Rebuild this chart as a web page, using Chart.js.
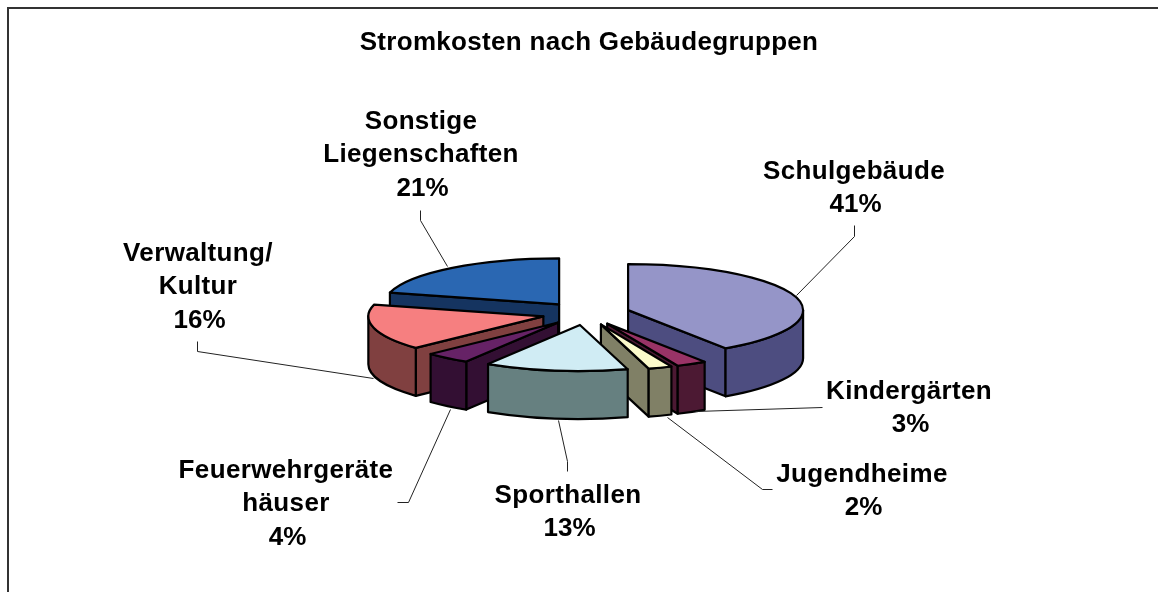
<!DOCTYPE html>
<html lang="de">
<head>
<meta charset="utf-8">
<title>Stromkosten nach Gebäudegruppen</title>
<script src="https://cdn.jsdelivr.net/npm/chart.js@4"></script>
<style>html,body{margin:0;padding:0;background:#fff}canvas{display:block}</style>
</head>
<body>
<canvas id="c" width="1158" height="592"></canvas>
<script>
// --- data ---
const chartTitle = 'Stromkosten nach Gebäudegruppen';
const categories = ['Schulgebäude', 'Kindergärten', 'Jugendheime', 'Sporthallen', 'Feuerwehrgeräte häuser', 'Verwaltung/ Kultur', 'Sonstige Liegenschaften'];
const labelLines = [['Schulgebäude'], ['Kindergärten'], ['Jugendheime'], ['Sporthallen'], ['Feuerwehrgeräte', 'häuser'], ['Verwaltung/', 'Kultur'], ['Sonstige', 'Liegenschaften']];
const shares = [40.6, 2.8, 2.2, 13.2, 4.2, 16.1, 20.9];
const percentLabels = ['41%', '3%', '2%', '13%', '4%', '16%', '21%'];
const topColors = ['#9595C8', '#993366', '#FCFBCB', '#D0ECF4', '#662266', '#F67F80', '#2A67B2'];
const sideColors = ['#4D4D80', '#4C1933', '#808066', '#668080', '#330F33', '#804040', '#153460'];

// --- presentation ---
const SQUASH = 46 / 175, DEPTH = 48, EXPLODE = 44;
const PAINT_ORDER = [6, 0, 5, 4, 1, 2, 3];
const FONT = 'bold 26px "Liberation Sans", Arial, sans-serif';
const LINE_H = 33.5, TITLE_SHIFT = 3;
const labelAnchors = [[854, 171.5], [909, 391.5], [862, 474.5], [568, 495.5], [286, 470.5], [198, 253.5], [421, 121.5]];
const leaders = [
  [[854,225],[854,236],[796,295]],
  [[822,407],[695,411]],
  [[772,489],[762,489],[667,417]],
  [[567,471],[567,461],[558,420]],
  [[397,502],[408,502],[450,409]],
  [[197,341],[197,351],[373,378]],
  [[420,210],[420,220],[447,266]]
];

const pie3d = {
  id: 'pie3d',
  beforeDraw(chart) {
    const c = chart.ctx;
    c.save();
    c.strokeStyle = '#333'; c.lineWidth = 2;
    c.beginPath(); c.moveTo(8, 592); c.lineTo(8, 8); c.lineTo(1158, 8); c.stroke();
    c.restore();
    if ('letterSpacing' in c) c.letterSpacing = '0.3px';
    c.translate(TITLE_SHIFT, 0);
  },
  beforeDatasetDraw(chart, args) {
    const c = chart.ctx, arcs = chart.getDatasetMeta(args.index).data;
    c.translate(-TITLE_SHIFT, 0);
    c.save();
    c.lineWidth = 2.2; c.strokeStyle = '#000'; c.lineJoin = 'round'; c.lineCap = 'round';
    const paint = (fill) => { c.fillStyle = fill; c.fill(); c.stroke(); };
    for (const i of PAINT_ORDER) {
      const { x, y, startAngle: a0, endAngle: a1, outerRadius: R } = arcs[i];
      const mid = (a0 + a1) / 2;
      const ax = x + Math.cos(mid) * EXPLODE;
      const ay = y + Math.sin(mid) * EXPLODE * SQUASH;
      const Ry = R * SQUASH;
      const px = (t) => ax + Math.cos(t) * R, py = (t) => ay + Math.sin(t) * Ry;
      const wall = (t) => {
        c.beginPath();
        c.moveTo(ax, ay); c.lineTo(px(t), py(t));
        c.lineTo(px(t), py(t) + DEPTH); c.lineTo(ax, ay + DEPTH); c.closePath();
        paint(sideColors[i]);
      };
      // radial walls, only those turned towards the viewer
      if (Math.cos(a0) < 0) wall(a0);
      if (Math.cos(a1) > 0) wall(a1);
      // outer curved wall (front half of the rim only)
      const f0 = Math.max(a0, 0), f1 = Math.min(a1, Math.PI);
      if (f1 > f0) {
        c.beginPath();
        c.ellipse(ax, ay, R, Ry, 0, f0, f1);
        c.lineTo(px(f1), py(f1) + DEPTH);
        c.ellipse(ax, ay + DEPTH, R, Ry, 0, f1, f0, true);
        c.closePath();
        paint(sideColors[i]);
      }
      // top face
      c.beginPath();
      c.moveTo(ax, ay);
      c.ellipse(ax, ay, R, Ry, 0, a0, a1);
      c.closePath();
      paint(topColors[i]);
    }
    c.restore();
    return false;
  },
  afterDatasetsDraw(chart) {
    const c = chart.ctx;
    c.save();
    c.strokeStyle = '#222'; c.lineWidth = 1;
    for (const pts of leaders) {
      c.beginPath();
      pts.forEach((p, k) => k ? c.lineTo(p[0] + .5, p[1] + .5) : c.moveTo(p[0] + .5, p[1] + .5));
      c.stroke();
    }
    c.fillStyle = '#000'; c.font = FONT; c.textAlign = 'center'; c.textBaseline = 'middle';
    labelLines.forEach((lines, i) => {
      const [lx, ly] = labelAnchors[i];
      if ('letterSpacing' in c) c.letterSpacing = '0.35px';
      lines.forEach((t, k) => c.fillText(t, lx, ly + k * LINE_H));
      if ('letterSpacing' in c) c.letterSpacing = '0px';
      c.fillText(percentLabels[i], lx + 1.5, ly + lines.length * LINE_H);
    });
    c.restore();
  }
};

new Chart(document.getElementById('c'), {
  type: 'pie',
  data: { labels: categories, datasets: [{ data: shares, backgroundColor: topColors, borderWidth: 0, hoverBorderWidth: 0 }] },
  options: {
    responsive: false, animation: false, events: [],
    layout: { padding: { left: 14, right: 0, top: 0, bottom: 103.5 } },
    plugins: {
      legend: { display: false }, tooltip: { enabled: false },
      title: {
        display: true, text: chartTitle, color: '#000',
        font: { family: '"Liberation Sans", Arial, sans-serif', size: 26, weight: 'bold', lineHeight: 1.2 },
        padding: { top: 27.4, bottom: 79.9 }
      }
    }
  },
  plugins: [pie3d]
});
</script>
</body>
</html>
